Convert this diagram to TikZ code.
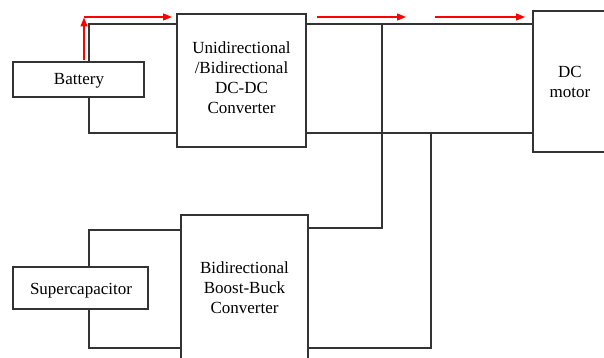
\documentclass[tikz,border=0pt]{standalone}
\usepackage{fontspec}
\setmainfont{Liberation Serif}
\usetikzlibrary{arrows.meta}
\begin{document}
\begin{tikzpicture}[x=1pt,y=-1pt,
  blk/.style={draw=black!80,line width=1.2pt,rectangle,inner sep=0pt},
  txt/.style={align=center,inner sep=0pt,font=\fontsize{17}{20}\selectfont},
  wire/.style={draw=black!80,line width=1.1pt},
  flow/.style={draw=red,line width=1.4pt,-{Triangle[length=9pt,width=7pt]}}]
\useasboundingbox (0,0) rectangle (604,358);
\clip (0,0) rectangle (604,358);
% blocks
\node[blk,minimum width=131,minimum height=35] (bat) at (78.5,79.5) {};
\node[txt] (batt) at (79,81) {Battery};
\node[blk,minimum width=129,minimum height=133] (conv1) at (241.5,80.5) {};
\node[txt] (conv1t) at (241.5,78) {Unidirectional\\/Bidirectional\\DC-DC\\Converter};
\node[blk,minimum width=79,minimum height=141] (motor) at (572.5,81.5) {};
\node[txt] (motort) at (570,82) {DC\\motor};
\node[blk,minimum width=135,minimum height=42] (sc) at (80.5,288) {};
\node[txt] (sct) at (81,290.5) {Supercapacitor};
\node[blk,minimum width=127,minimum height=146] (conv2) at (244.5,288) {};
\node[txt] (conv2t) at (244.5,288) {Bidirectional\\Boost-Buck\\Converter};
% junction coordinates
\coordinate (bt) at ([xshift=10.5]bat.north);
\coordinate (bb) at ([xshift=10.5]bat.south);
\coordinate (st) at ([xshift=8.5]sc.north);
\coordinate (sb) at ([xshift=8.5]sc.south);
\coordinate (ja) at (382,24);
\coordinate (jb) at (431,133);
% battery wires
\draw[wire] (bt) -- (bt |- 0,24) -- (conv1.west |- 0,24);
\draw[wire] (bb) -- (bb |- 0,133) -- (conv1.west |- 0,133);
% DC bus to motor
\draw[wire] (conv1.east |- 0,24) -- (motor.west |- 0,24);
\draw[wire] (conv1.east |- 0,133) -- (motor.west |- 0,133);
% supercap branch
\draw[wire] (ja) -- (ja |- 0,228) -- (conv2.east |- 0,228);
\draw[wire] (jb) -- (jb |- 0,348) -- (conv2.east |- 0,348);
\draw[wire] (st) -- (st |- 0,230) -- (conv2.west |- 0,230);
\draw[wire] (sb) -- (sb |- 0,348) -- (conv2.west |- 0,348);
% power-flow arrows
\coordinate (r0) at (84,60);
\coordinate (r1) at (84,17.5);
\coordinate (r2) at (84,17);
\coordinate (r3) at (172,17);
\coordinate (r4) at (317,17);
\coordinate (r5) at (406,17);
\coordinate (r6) at (435,17);
\coordinate (r7) at (525,17);
\draw[flow] (r0) -- (r1);
\draw[flow] (r2) -- (r3);
\draw[flow] (r4) -- (r5);
\draw[flow] (r6) -- (r7);
\end{tikzpicture}
\end{document}
